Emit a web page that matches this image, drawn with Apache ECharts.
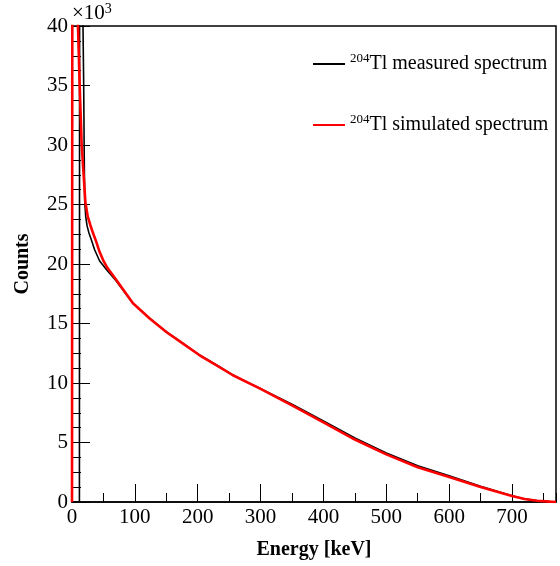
<!DOCTYPE html>
<html>
<head>
<meta charset="utf-8">
<script src="https://cdn.jsdelivr.net/npm/echarts@6/dist/echarts.min.js"></script>
<style>
html,body{margin:0;padding:0;background:#fff;}
#chart{width:560px;height:566px;}
</style>
</head>
<body>
<div id="chart"></div>
<script>
// Measured 204Tl spectrum (energy keV, counts)
const measuredEnergy = [0, 11.8, 12.2, 16.5, 17.5, 18.6, 19.3, 20.2, 21.8, 24, 27, 31, 36, 44, 56, 70, 97, 123.6, 150, 176.6, 203, 230, 256, 283, 300, 350, 400, 450, 500, 550, 600, 650, 700, 720, 740, 760, 770];
const measuredCounts = [0, 0, 60000, 45000, 40000, 35000, 30000, 25300, 24000, 23200, 22600, 22000, 21200, 20250, 19450, 18600, 16680, 15440, 14310, 13330, 12350, 11510, 10670, 9970, 9530, 8220, 6820, 5380, 4120, 3040, 2200, 1330, 520, 260, 110, 40, 20];
// Simulated 204Tl spectrum (energy keV, counts)
const simulatedEnergy = [0, 0.5, 0.7, 8, 9.5, 12.2, 15.4, 17.5, 21.3, 25, 29, 33.4, 37.7, 44, 49.3, 56, 70, 97, 123.6, 150, 176.6, 203, 230, 256, 283, 300, 350, 400, 450, 500, 550, 600, 650, 700, 720, 740, 760, 770];
const simulatedCounts = [0, 0, 60000, 45000, 40000, 35000, 30000, 28300, 25200, 24000, 23300, 22600, 22000, 21000, 20350, 19700, 18700, 16700, 15420, 14290, 13310, 12330, 11490, 10650, 9950, 9510, 8120, 6700, 5250, 4000, 2920, 2100, 1270, 500, 250, 100, 30, 0];
const seriesNames = ['measured spectrum', 'simulated spectrum'];
const xTickLabels = [0, 100, 200, 300, 400, 500, 600, 700];
const yTickLabels = [0, 5, 10, 15, 20, 25, 30, 35, 40];

const FONT = "'Liberation Serif','Times New Roman',serif";
const pair = (xs, ys) => xs.map((x, i) => [x, ys[i]]);

const chart = echarts.init(document.getElementById('chart'), null, {renderer: 'canvas'});
const legendRich = {
  sup: {fontFamily: FONT, fontSize: 13, color: '#000', verticalAlign: 'top', lineHeight: 24, padding: [0, 0, 10, 0]},
  main: {fontFamily: FONT, fontSize: 20, color: '#000', lineHeight: 24}
};
chart.setOption({
  animation: false,
  backgroundColor: '#fff',
  grid: {left: 72, right: 4, top: 26, bottom: 64, show: true, borderColor: '#000', borderWidth: 1.5, backgroundColor: 'transparent'},
  legend: {
    orient: 'vertical', left: 308, top: 47, itemGap: 38, itemWidth: 32, itemHeight: 2, icon: 'rect',
    data: seriesNames,
    formatter: n => '{sup|204}{main|Tl ' + n + '}',
    textStyle: {rich: legendRich, padding: [0, 0, 0, 0]}
  },
  graphic: [{
    type: 'text', left: 72, top: 2,
    style: {text: '×10{s|3}', font: '21px ' + FONT, fill: '#000', rich: {s: {fontSize: 14, fontFamily: FONT, verticalAlign: 'top', padding: [0, 0, 9, 0]}}}
  }],
  xAxis: [{
    type: 'value', min: 0, max: 770, interval: 100,
    name: 'Energy [keV]', nameLocation: 'middle', nameGap: 38,
    nameTextStyle: {fontFamily: FONT, fontSize: 20, fontWeight: 'bold', color: '#000'},
    axisLine: {show: true, onZero: false, lineStyle: {color: '#000', width: 1.5}},
    axisTick: {show: true, inside: true, length: 18, lineStyle: {color: '#000', width: 1}},
    axisLabel: {fontFamily: FONT, fontSize: 21, color: '#000', margin: 5, showMaxLabel: false,
      formatter: v => xTickLabels.includes(v) ? String(v) : ''},
    splitLine: {show: false}
  }, {
    type: 'value', min: 0, max: 770, interval: 50, position: 'bottom',
    axisLine: {show: false, onZero: false},
    axisTick: {show: true, inside: true, length: 9, lineStyle: {color: '#000', width: 1}},
    axisLabel: {show: false}, splitLine: {show: false}
  }],
  yAxis: [{
    type: 'value', min: 0, max: 40000, interval: 5000,
    name: 'Counts', nameLocation: 'middle', nameGap: 39,
    nameTextStyle: {fontFamily: FONT, fontSize: 20, fontWeight: 'bold', color: '#000'},
    axisLine: {show: true, onZero: false, lineStyle: {color: '#000', width: 1.5}},
    axisTick: {show: true, inside: true, length: 18, lineStyle: {color: '#000', width: 1}},
    axisLabel: {fontFamily: FONT, fontSize: 21, color: '#000', margin: 4,
      formatter: v => yTickLabels.includes(v / 1000) ? String(v / 1000) : ''},
    splitLine: {show: false}
  }, {
    type: 'value', min: 0, max: 40000, interval: 1250, position: 'left',
    axisLine: {show: false, onZero: false},
    axisTick: {show: true, inside: true, length: 9, lineStyle: {color: '#000', width: 1}},
    axisLabel: {show: false}, splitLine: {show: false}
  }],
  series: [{
    name: seriesNames[0], type: 'line', xAxisIndex: 0, yAxisIndex: 0,
    data: pair(measuredEnergy, measuredCounts), showSymbol: false, symbol: 'none',
    lineStyle: {color: '#000', width: 1.6}, itemStyle: {color: '#000'}, clip: true, z: 2
  }, {
    name: seriesNames[1], type: 'line', xAxisIndex: 0, yAxisIndex: 0,
    data: pair(simulatedEnergy, simulatedCounts), showSymbol: false, symbol: 'none',
    lineStyle: {color: '#ff0000', width: 2.6}, itemStyle: {color: '#ff0000'}, clip: true, z: 3
  }]
});
</script>
</body>
</html>
